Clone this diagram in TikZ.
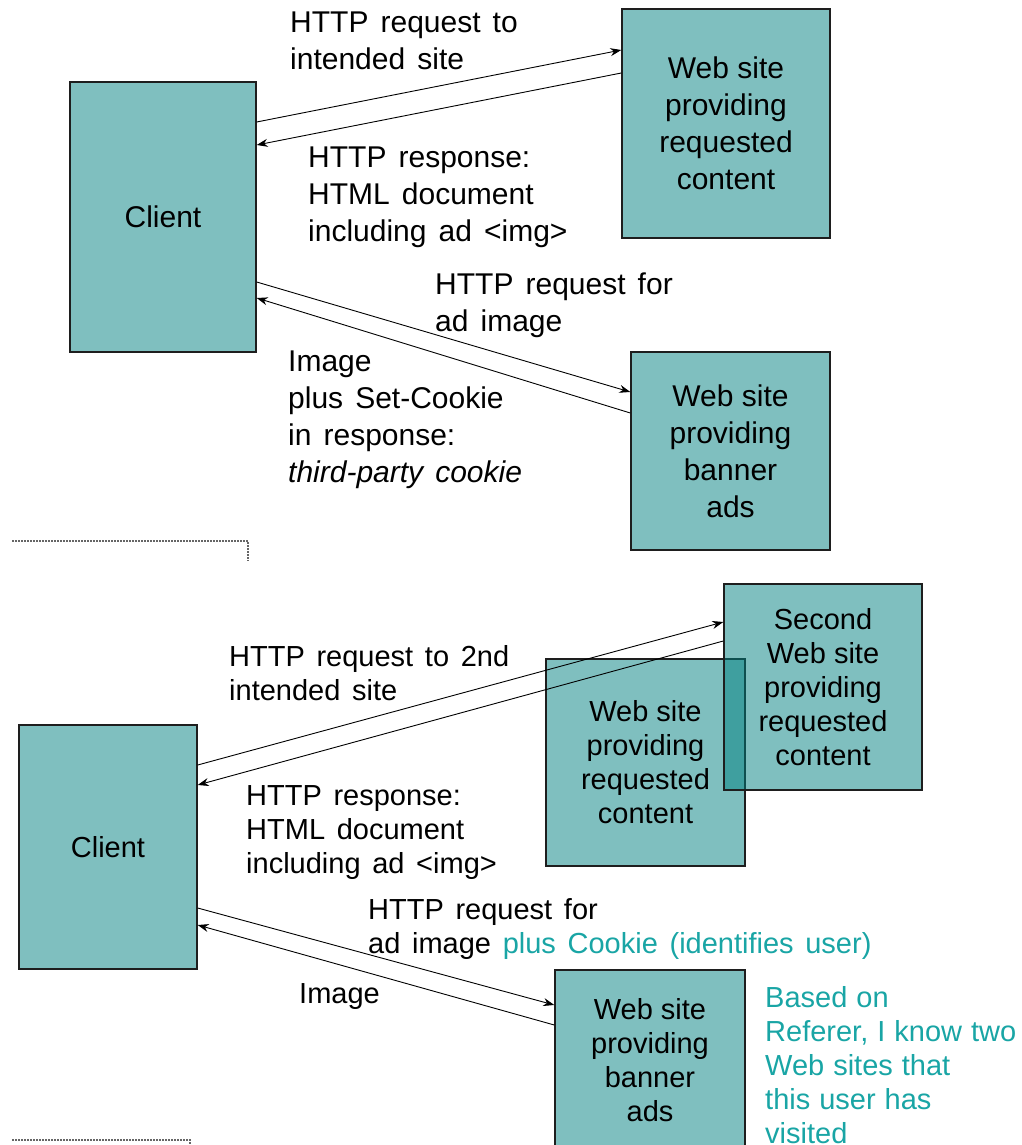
\documentclass[tikz,border=0pt]{standalone}
\usepackage{fontspec}
\setmainfont{Liberation Sans}
\newfontfamily\labelfont[WordSpace=1.45]{Liberation Sans}
% note text: same face, tighter explicit word space
\newcommand\notestyle{\labelfont\spaceskip=0.31em plus 0.1em minus 0.05em\relax}
\usetikzlibrary{arrows.meta}
\definecolor{boxteal}{RGB}{0,128,128}
\definecolor{noteteal}{RGB}{25,165,165}
\definecolor{edge}{RGB}{30,30,30}
\tikzset{
  site/.style={draw=edge, line width=1.4pt, fill=boxteal, fill opacity=0.5,
    text opacity=1, inner sep=0pt, align=center, rectangle},
  bigtxt/.style={font={\fontsize{30}{37}\selectfont}},
  smalltxt/.style={font={\fontsize{29}{34}\selectfont}},
  lbl/.style={anchor=north west, inner sep=0pt, align=left},
  arr/.style={draw=black, line width=0.9pt, -{Stealth[length=11pt,width=8pt]}},
  sep/.style={draw=gray!80!black, line width=1.3pt, dash pattern=on 1.6pt off 1.4pt}
}
\begin{document}
\begin{tikzpicture}[x=1pt,y=-1pt]
\useasboundingbox (0,0) rectangle (1021,1145);

% ---------- first visit: cookie set by the ad server ----------
\node[site, bigtxt, minimum width=186pt, minimum height=270pt] (client1) at (163,217) {Client};
\node[site, bigtxt, minimum width=208pt, minimum height=229pt] (site1) at (726,123.5)
  {Web site\\providing\\requested\\content};
\node[site, bigtxt, minimum width=199pt, minimum height=198pt] (ads1) at (730.5,451)
  {Web site\\providing\\banner\\ads};

\draw[arr] (client1.east |- 0,122) -- (site1.west |- 0,50);
\draw[arr] (site1.west |- 0,73) -- (client1.east |- 0,145);
\draw[arr] (client1.east |- 0,282) -- (ads1.west |- 0,392);
\draw[arr] (ads1.west |- 0,413) -- (client1.east |- 0,298);

\node[lbl, bigtxt] (req1) at (290,12) {\labelfont HTTP request to\\\labelfont intended site};
\node[lbl, bigtxt] (resp1) at (308,147) {\labelfont HTTP response:\\\labelfont HTML document\\\labelfont including ad <img>};
\node[lbl, bigtxt] (adreq1) at (435,273) {\labelfont HTTP request for\\\labelfont ad image};
\node[lbl, bigtxt] (img1) at (288,351) {\labelfont Image\\\labelfont plus Set-Cookie\\\labelfont in response:\\\labelfont\itshape third-party cookie};

\draw[sep] (12,541) -- (248,541) -- (248,561);

% ---------- second visit: cookie sent back to the ad server ----------
\node[site, smalltxt, minimum width=178pt, minimum height=244pt] (client2) at (108,847) {Client};
\node[site, smalltxt, minimum width=199pt, minimum height=207pt] (site2) at (645.5,762.5)
  {Web site\\providing\\requested\\content};
\node[site, smalltxt, minimum width=198pt, minimum height=206pt] (second) at (823,687)
  {Second\\Web site\\providing\\requested\\content};
\node[site, minimum width=190pt, minimum height=190pt] (ads2) at (650,1065) {};
\node[smalltxt, align=center, inner sep=0pt] (ads2txt) at (650,1060)
  {Web site\\providing\\banner\\ads};

\draw[arr] (client2.east |- 0,765) -- (second.west |- 0,622);
\draw[arr] (second.west |- 0,641) -- (client2.east |- 0,785);
\draw[arr] (client2.east |- 0,908) -- (ads2.west |- 0,1005);
\draw[arr] (ads2.west |- 0,1025) -- (client2.east |- 0,925);

\node[lbl, smalltxt] (req2) at (229,645) {\labelfont HTTP request to 2nd\\\labelfont intended site};
\node[lbl, smalltxt] (resp2) at (246,785) {\labelfont HTTP response:\\\labelfont HTML document\\\labelfont including ad <img>};
\node[lbl, smalltxt] (adreq2) at (368,898) {\labelfont HTTP request for\\\labelfont ad image \textcolor{noteteal}{plus Cookie (identifies user)}};
\node[lbl, smalltxt] (img2) at (299,983) {\labelfont Image};
\node[lbl, smalltxt, text=noteteal] (note) at (765,986)
  {\notestyle Based on\\\notestyle Referer, I know two\\\notestyle Web sites that\\\notestyle this user has\\\notestyle visited};

\draw[sep] (12,1140) -- (190,1140) -- (190,1145);
\end{tikzpicture}
\end{document}
